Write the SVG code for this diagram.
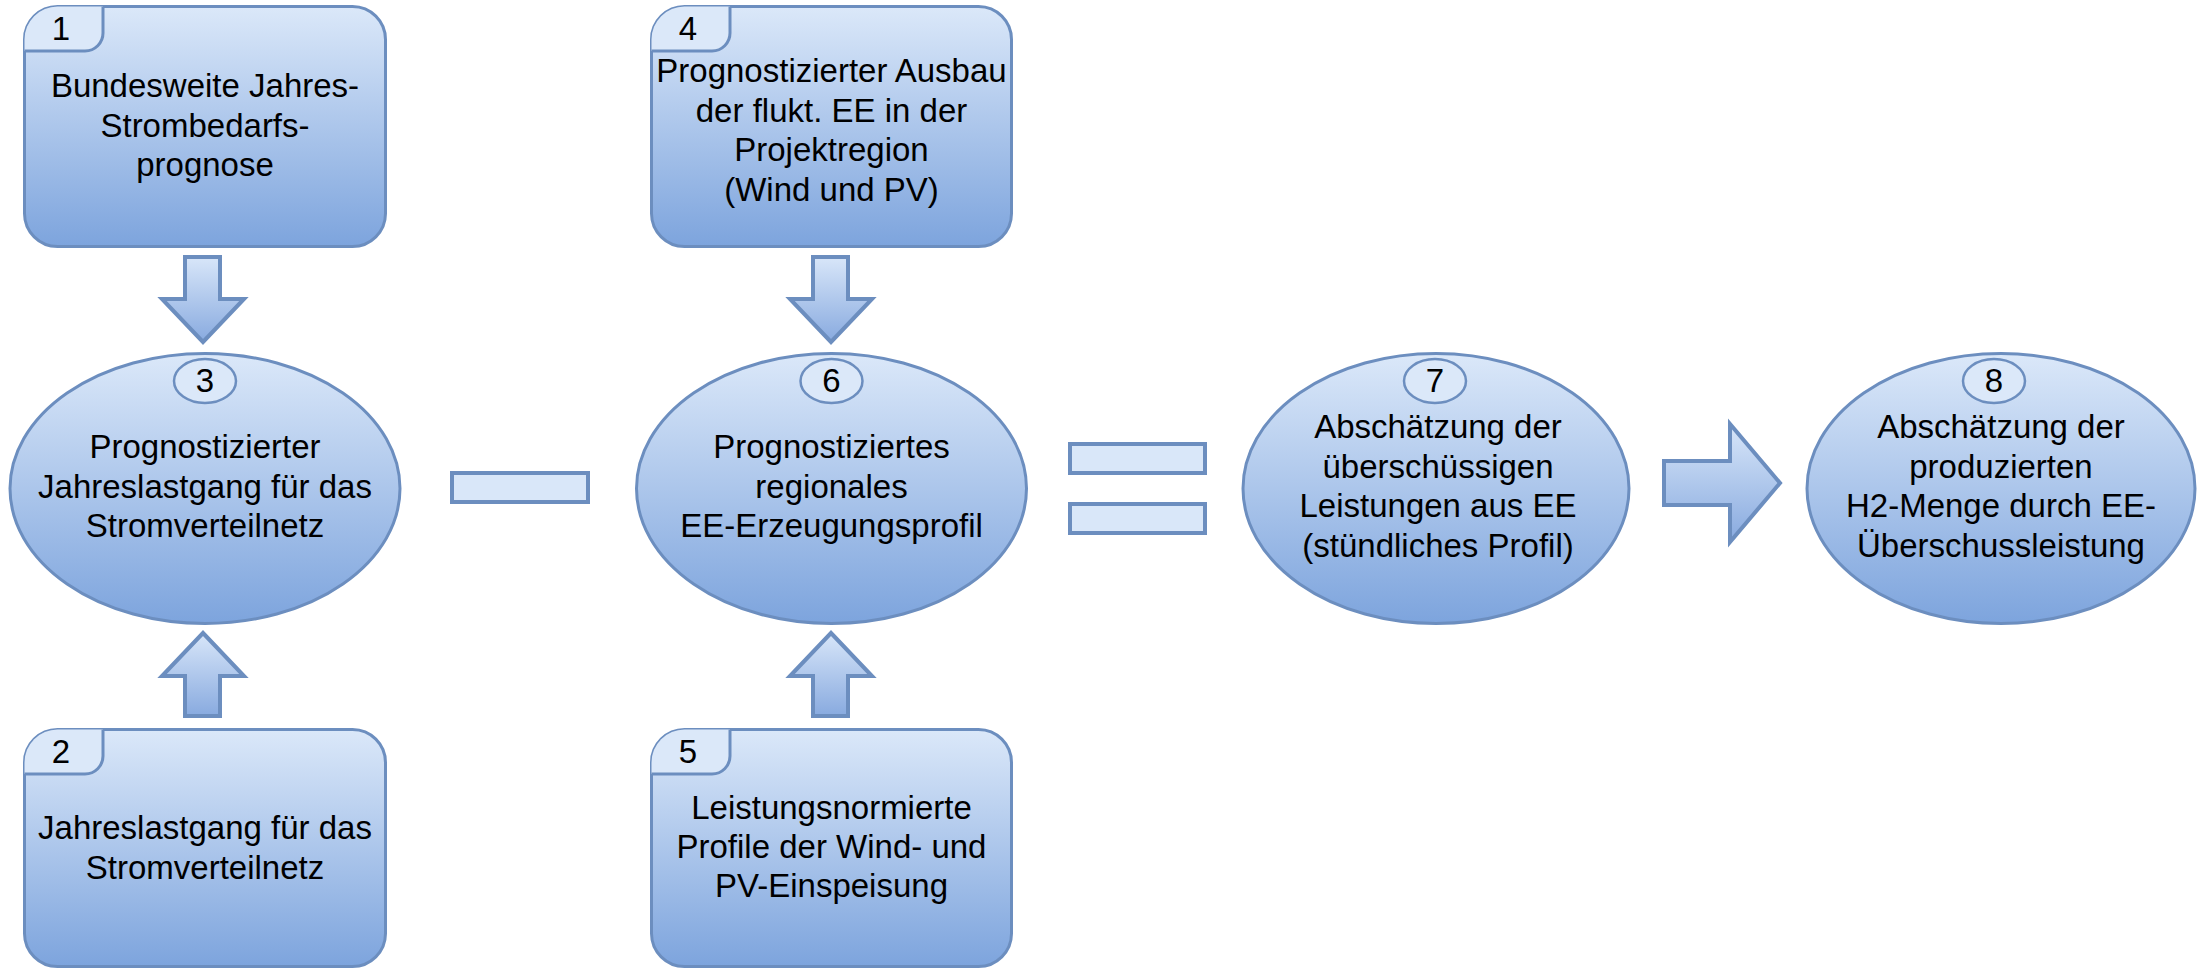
<svg xmlns="http://www.w3.org/2000/svg" width="2212" height="970" viewBox="0 0 2212 970">
<defs>
<linearGradient id="g" x1="0" y1="0" x2="0" y2="1">
<stop offset="0" stop-color="#dbe8f9"/>
<stop offset="1" stop-color="#7da4dd"/>
</linearGradient>
<linearGradient id="ga" x1="0" y1="0" x2="0" y2="1">
<stop offset="0" stop-color="#d8e6f9"/>
<stop offset="1" stop-color="#88aadf"/>
</linearGradient>
</defs>
<style>
.box{fill:url(#g);stroke:#6c8ebf;stroke-width:3}
.tab{fill:#dbe8f9;stroke:none}
.tabl{fill:none;stroke:#6c8ebf;stroke-width:3}
.num{fill:#dbe8f9;stroke:#6c8ebf;stroke-width:2.5}
.t{font-family:"Liberation Sans",Arial,sans-serif;font-size:33px;fill:#000;text-anchor:middle}
.arr{fill:url(#ga);stroke:#6c8ebf;stroke-width:4;stroke-linejoin:miter}
.op{fill:#d9e7f9;stroke:#6c8ebf;stroke-width:4}
</style>
<rect width="2212" height="970" fill="#fff"/>

<g id="connectors">
<path class="arr" d="M185,257 H220 V299 H244 L203,342 L162,299 H185 Z"/>
<path class="arr" d="M813,257 H848 V299 H872 L831,342 L790,299 H813 Z"/>
<path class="arr" d="M203,633 L244,676 H220 V716 H185 V676 H162 Z"/>
<path class="arr" d="M831,633 L872,676 H848 V716 H813 V676 H790 Z"/>
<path class="arr" d="M1664,461 H1730 V424 L1780,483 L1730,542 V505 H1664 Z"/>
<rect class="op" x="452" y="473" width="136" height="29"/>
<rect class="op" x="1070" y="444" width="135" height="29"/>
<rect class="op" x="1070" y="504" width="135" height="29"/>
</g>

<g id="node1">
<rect class="box" x="24.5" y="6.5" width="361" height="240" rx="33"/>
<path class="tab" d="M24.5,51 H85 A18,18 0 0 0 103,33 V6.5 H57.5 A33,33 0 0 0 24.5,39.5 Z"/>
<path class="tabl" d="M24.5,51 H85 A18,18 0 0 0 103,33 V6.5"/>
<text class="t" x="61" y="40">1</text>
<text class="t" x="205" y="97">Bundesweite Jahres-</text>
<text class="t" x="205" y="136.5">Strombedarfs-</text>
<text class="t" x="205" y="176">prognose</text>
</g>

<g id="node2">
<rect class="box" x="24.5" y="729.5" width="361" height="237" rx="33"/>
<path class="tab" d="M24.5,774 H85 A18,18 0 0 0 103,756 V729.5 H57.5 A33,33 0 0 0 24.5,762.5 Z"/>
<path class="tabl" d="M24.5,774 H85 A18,18 0 0 0 103,756 V729.5"/>
<text class="t" x="61" y="763">2</text>
<text class="t" x="205" y="839">Jahreslastgang für das</text>
<text class="t" x="205" y="879">Stromverteilnetz</text>
</g>

<g id="node3">
<ellipse class="box" cx="205" cy="488.5" rx="195" ry="135"/>
<ellipse class="num" cx="205" cy="381" rx="31" ry="22"/>
<text class="t" x="205" y="392">3</text>
<text class="t" x="205" y="458">Prognostizierter</text>
<text class="t" x="205" y="497.5">Jahreslastgang für das</text>
<text class="t" x="205" y="537">Stromverteilnetz</text>
</g>

<g id="node4">
<rect class="box" x="651.5" y="6.5" width="360" height="240" rx="33"/>
<path class="tab" d="M651.5,51 H712 A18,18 0 0 0 730,33 V6.5 H684.5 A33,33 0 0 0 651.5,39.5 Z"/>
<path class="tabl" d="M651.5,51 H712 A18,18 0 0 0 730,33 V6.5"/>
<text class="t" x="688" y="40">4</text>
<text class="t" x="831.5" y="82">Prognostizierter Ausbau</text>
<text class="t" x="831.5" y="121.5">der flukt. EE in der</text>
<text class="t" x="831.5" y="161">Projektregion</text>
<text class="t" x="831.5" y="200.5">(Wind und PV)</text>
</g>

<g id="node5">
<rect class="box" x="651.5" y="729.5" width="360" height="237" rx="33"/>
<path class="tab" d="M651.5,774 H712 A18,18 0 0 0 730,756 V729.5 H684.5 A33,33 0 0 0 651.5,762.5 Z"/>
<path class="tabl" d="M651.5,774 H712 A18,18 0 0 0 730,756 V729.5"/>
<text class="t" x="688" y="763">5</text>
<text class="t" x="831.5" y="819">Leistungsnormierte</text>
<text class="t" x="831.5" y="858">Profile der Wind- und</text>
<text class="t" x="831.5" y="897">PV-Einspeisung</text>
</g>

<g id="node6">
<ellipse class="box" cx="831.5" cy="488.5" rx="195" ry="135"/>
<ellipse class="num" cx="831.5" cy="381" rx="31" ry="22"/>
<text class="t" x="831.5" y="392">6</text>
<text class="t" x="831.5" y="458">Prognostiziertes</text>
<text class="t" x="831.5" y="497.5">regionales</text>
<text class="t" x="831.5" y="537">EE-Erzeugungsprofil</text>
</g>

<g id="node7">
<ellipse class="box" cx="1436" cy="488.5" rx="193" ry="135"/>
<ellipse class="num" cx="1435" cy="381" rx="31" ry="22"/>
<text class="t" x="1435" y="392">7</text>
<text class="t" x="1438" y="438">Abschätzung der</text>
<text class="t" x="1438" y="477.5">überschüssigen</text>
<text class="t" x="1438" y="517">Leistungen aus EE</text>
<text class="t" x="1438" y="556.5">(stündliches Profil)</text>
</g>

<g id="node8">
<ellipse class="box" cx="2001" cy="488.5" rx="194" ry="135"/>
<ellipse class="num" cx="1994" cy="381" rx="31" ry="22"/>
<text class="t" x="1994" y="392">8</text>
<text class="t" x="2001" y="438">Abschätzung der</text>
<text class="t" x="2001" y="477.5">produzierten</text>
<text class="t" x="2001" y="517">H2-Menge durch EE-</text>
<text class="t" x="2001" y="556.5">Überschussleistung</text>
</g>
</svg>
